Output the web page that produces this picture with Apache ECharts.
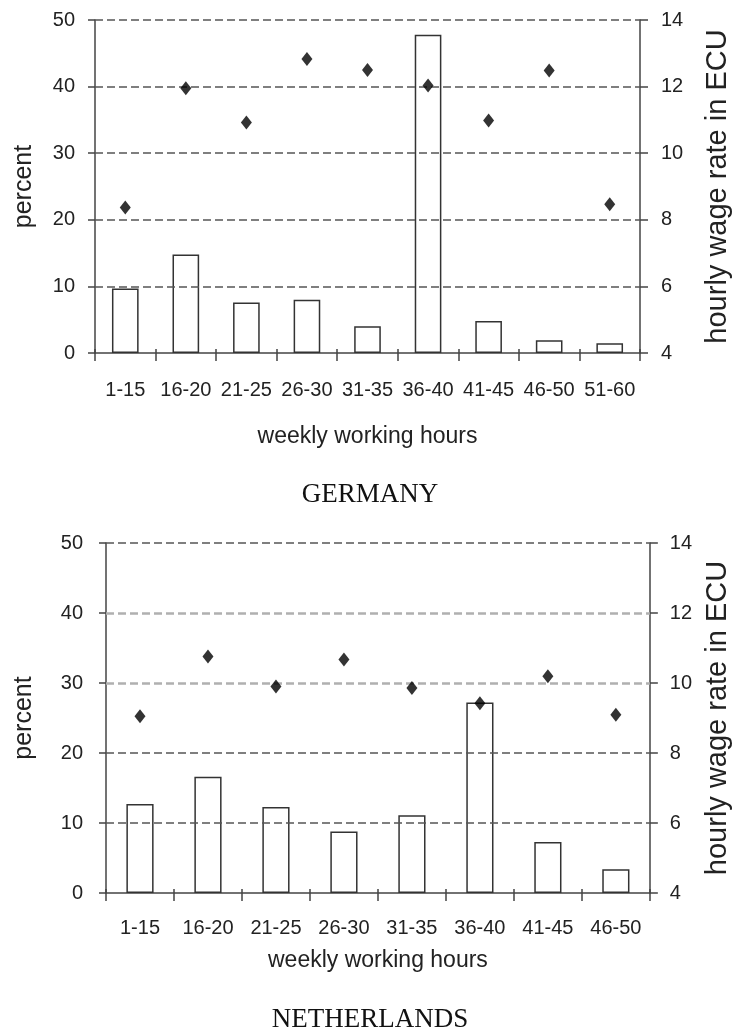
<!DOCTYPE html>
<html>
<head>
<meta charset="utf-8">
<script src="https://cdn.jsdelivr.net/npm/echarts@6/dist/echarts.min.js"></script>
<style>
html,body{margin:0;padding:0;background:#fff;}
#chart{width:740px;height:1032px;}
</style>
</head>
<body>
<div id="chart"></div>
<script>
// ---- data ----
const deCategories = ['1-15','16-20','21-25','26-30','31-35','36-40','41-45','46-50','51-60'];
const dePercent = [9.7, 14.8, 7.6, 8.0, 4.0, 47.8, 4.8, 1.9, 1.45];
const deWage = [8.37, 11.95, 10.92, 12.83, 12.5, 12.03, 10.98, 12.48, 8.47];

const nlCategories = ['1-15','16-20','21-25','26-30','31-35','36-40','41-45','46-50'];
const nlPercent = [12.7, 16.6, 12.3, 8.8, 11.1, 27.2, 7.3, 3.4];
const nlWage = [9.05, 10.76, 9.9, 10.67, 9.86, 9.42, 10.19, 9.09];

const percentTicks = [10, 20, 30, 40, 50];

// ---- styles ----
const SANS = 'Liberation Sans';
const SERIF = 'Liberation Serif';
const TXT = '#222';
const AX = '#444';
const DARK = '#555';
const LIGHT = '#b0b0b0';

const chart = echarts.init(document.getElementById('chart'), null, {renderer: 'canvas'});

function xAxes(gridIndex, cats, gap, margin) {
  return [
    {
      type: 'category', gridIndex, data: cats, position: 'bottom',
      boundaryGap: true,
      axisLine: {show: true, lineStyle: {color: AX, width: 1.5}},
      axisTick: {show: true, inside: false, length: 8, alignWithLabel: false, lineStyle: {color: AX, width: 1.5}},
      axisLabel: {show: true, interval: 0, margin: margin, fontFamily: SANS, fontSize: 20, color: TXT},
      name: 'weekly working hours', nameLocation: 'middle', nameGap: gap,
      nameTextStyle: {fontFamily: SANS, fontSize: 23, color: TXT},
      splitLine: {show: false}
    },
    {
      type: 'category', gridIndex, data: cats, position: 'bottom',
      boundaryGap: true,
      axisLine: {show: false},
      axisTick: {show: true, inside: true, length: 4, lineStyle: {color: AX, width: 1.5}},
      axisLabel: {show: false},
      splitLine: {show: false}
    }
  ];
}

function yAxes(gridIndex, leftGap, rightGap, lMargin, rMargin) {
  return [
    {
      type: 'value', gridIndex, position: 'left', min: 0, max: 50, interval: 10,
      axisLine: {show: true, lineStyle: {color: AX, width: 1.5}},
      axisTick: {show: true, length: 7, lineStyle: {color: AX, width: 1.5}},
      axisLabel: {margin: lMargin, fontFamily: SANS, fontSize: 20, color: TXT},
      splitLine: {show: false},
      name: 'percent', nameLocation: 'middle', nameGap: leftGap, nameRotate: 90,
      nameTextStyle: {fontFamily: SANS, fontSize: 25, color: TXT}
    },
    {
      type: 'value', gridIndex, position: 'right', min: 4, max: 14, interval: 2,
      axisLine: {show: true, lineStyle: {color: AX, width: 1.5}},
      axisTick: {show: true, length: 8, lineStyle: {color: AX, width: 1.5}},
      axisLabel: {margin: rMargin, fontFamily: SANS, fontSize: 20, color: TXT},
      splitLine: {show: false},
      name: 'hourly wage rate in ECU', nameLocation: 'middle', nameGap: rightGap, nameRotate: 90,
      nameTextStyle: {fontFamily: SANS, fontSize: 29, color: TXT}
    }
  ];
}

function gridLines(colors, widths) {
  return percentTicks.map((v, i) => ({
    yAxis: v,
    lineStyle: {color: colors[i], width: widths[i], type: [8, 4]}
  }));
}

function seriesFor(xIdx, yIdx, pct, wage, lineColors, lineWidths, barW) {
  return [
    {
      type: 'line', xAxisIndex: xIdx, yAxisIndex: yIdx, data: [], z: 1, silent: true,
      markLine: {
        silent: true, symbol: ['none', 'none'], label: {show: false},
        data: gridLines(lineColors, lineWidths)
      }
    },
    {
      type: 'bar', xAxisIndex: xIdx, yAxisIndex: yIdx, data: pct, z: 3,
      barWidth: barW,
      itemStyle: {color: '#fff', borderColor: '#333', borderWidth: 1.5},
      silent: true
    },
    {
      type: 'scatter', xAxisIndex: xIdx, yAxisIndex: yIdx + 1, data: wage, z: 5,
      symbol: 'diamond', symbolSize: [11, 14],
      itemStyle: {color: '#000'},
      silent: true
    }
  ];
}

const option = {
  animation: false,
  backgroundColor: '#fff',
  title: [
    {text: 'GERMANY', left: 'center', top: 476,
     textStyle: {fontFamily: SERIF, fontSize: 27, fontWeight: 'normal', color: '#111'}},
    {text: 'NETHERLANDS', left: 'center', top: 1001,
     textStyle: {fontFamily: SERIF, fontSize: 27, fontWeight: 'normal', color: '#111'}}
  ],
  grid: [
    {left: 95, right: 96, top: 20, height: 333, containLabel: false},
    {left: 106, right: 82, top: 543, height: 350, containLabel: false}
  ],
  xAxis: [].concat(xAxes(0, deCategories, 72, 27), xAxes(1, nlCategories, 56, 25)),
  yAxis: [].concat(yAxes(0, 58, 63, 20, 21), yAxes(1, 69, 51, 23, 20)),
  series: [].concat(
    seriesFor(0, 0, dePercent, deWage, [DARK, DARK, DARK, DARK, DARK], [1.5, 1.5, 1.5, 1.5, 1.5], '44%'),
    seriesFor(2, 2, nlPercent, nlWage, [DARK, DARK, LIGHT, LIGHT, DARK], [1.5, 1.5, 2.5, 2.5, 1.5], '40%')
  )
};

chart.setOption(option);
</script>
</body>
</html>
